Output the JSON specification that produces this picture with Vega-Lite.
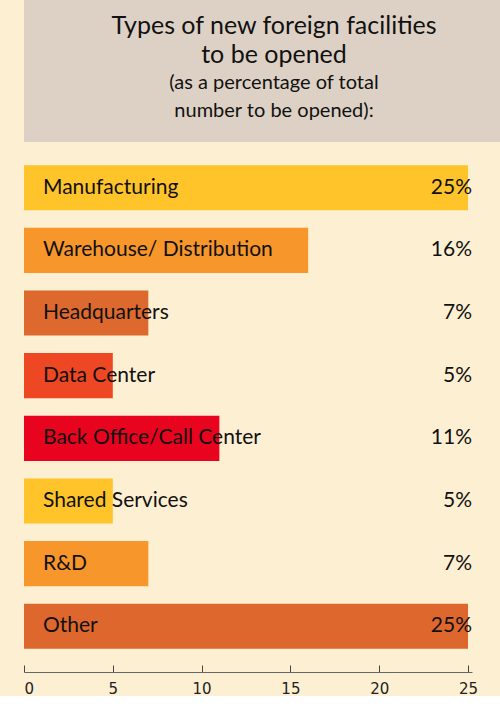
{
  "$schema": "https://vega.github.io/schema/vega-lite/v6.json",
  "padding": 0,
  "spacing": 0,
  "background": "#fdefd2",
  "config": {"font": "Lato", "view": {"stroke": null}},
  "vconcat": [
    {
      "width": 500,
      "height": 142,
      "view": {"fill": "#ddd1c5", "stroke": null},
      "data": {
        "values": [
          {"line": 1, "kind": "title", "text": "Types of new foreign facilities"},
          {"line": 2, "kind": "title", "text": "to be opened"},
          {"line": 3, "kind": "subtitle", "text": "(as a percentage of total"},
          {"line": 4, "kind": "subtitle", "text": "number to be opened):"}
        ]
      },
      "mark": {"type": "text", "baseline": "middle", "align": "center", "color": "#111111"},
      "encoding": {
        "y": {
          "field": "line",
          "type": "ordinal",
          "scale": {"type": "point", "padding": 1.1, "align": 0.46},
          "axis": null
        },
        "size": {
          "field": "kind",
          "type": "nominal",
          "scale": {"domain": ["title", "subtitle"], "range": [25, 20]},
          "legend": null
        },
        "text": {"field": "text"}
      }
    },
    {
      "width": 448,
      "height": 530,
      "data": {
        "values": [
          {"type": "Manufacturing", "pct": 25},
          {"type": "Warehouse/ Distribution", "pct": 16},
          {"type": "Headquarters", "pct": 7},
          {"type": "Data Center", "pct": 5},
          {"type": "Back Office/Call Center", "pct": 11},
          {"type": "Shared Services", "pct": 5},
          {"type": "R&D", "pct": 7},
          {"type": "Other", "pct": 25}
        ]
      },
      "transform": [{"calculate": "datum.pct + '%'", "as": "label"}],
      "encoding": {
        "y": {
          "field": "type",
          "type": "nominal",
          "sort": null,
          "scale": {"paddingInner": 0.28, "paddingOuter": 0.37},
          "axis": {
            "labels": false,
            "ticks": false,
            "domain": false,
            "grid": false,
            "title": null,
            "minExtent": 24,
            "maxExtent": 24
          }
        }
      },
      "layer": [
        {
          "mark": {"type": "bar"},
          "encoding": {
            "x": {
              "field": "pct",
              "type": "quantitative",
              "scale": {"domain": [0, 25.225], "nice": false},
              "axis": {
                "values": [0, 5, 10, 15, 20, 25],
                "grid": false,
                "title": null,
                "domainColor": "#666666",
                "tickColor": "#444444",
                "tickSize": -7,
                "labelPadding": 16,
                "labelFontSize": 15,
                "labelColor": "#222222",
                "labelFont": "DejaVu Sans"
              }
            },
            "color": {
              "field": "type",
              "type": "nominal",
              "sort": null,
              "scale": {
                "domain": ["Manufacturing", "Warehouse/ Distribution", "Headquarters", "Data Center", "Back Office/Call Center", "Shared Services", "R&D", "Other"],
                "range": ["#fec42a", "#f7962b", "#de692e", "#ee4724", "#e8031f", "#fec42a", "#f7962b", "#de672e"]
              },
              "legend": null
            }
          }
        },
        {
          "mark": {"type": "text", "align": "left", "baseline": "middle", "dx": 19, "fontSize": 21, "color": "#111111"},
          "encoding": {
            "x": {"datum": 0},
            "text": {"field": "type"}
          }
        },
        {
          "mark": {"type": "text", "align": "right", "baseline": "middle", "dx": 4, "fontSize": 21, "color": "#111111"},
          "encoding": {
            "x": {"datum": 25},
            "text": {"field": "label"},
            "detail": {"field": "type"}
          }
        }
      ]
    }
  ]
}
